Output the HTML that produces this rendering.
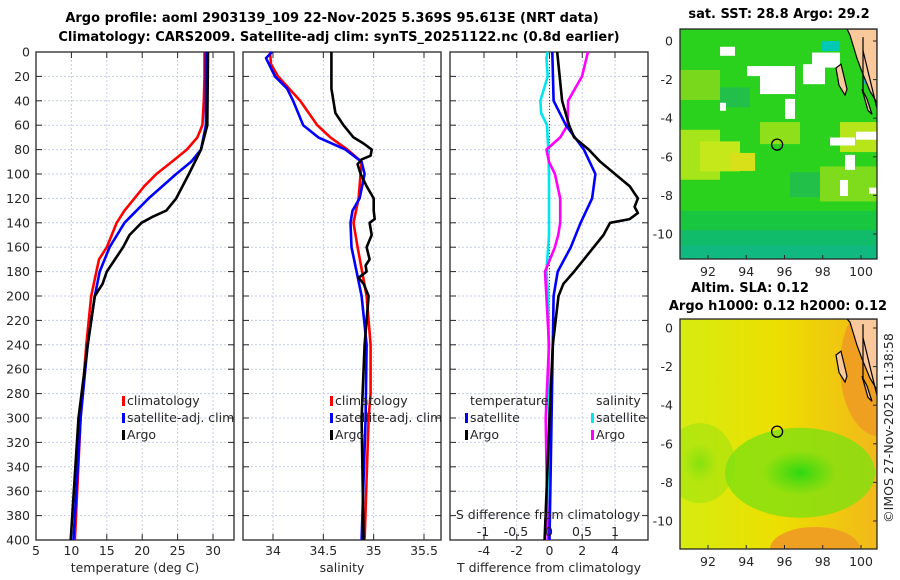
<!DOCTYPE html>
<html><head><meta charset="utf-8"><style>
html,body{margin:0;padding:0;background:#fff;}
svg{display:block;font-family:"DejaVu Sans","Liberation Sans",sans-serif;}
.t{font-size:12.5px;fill:#262626;}
.b{font-weight:bold;font-size:13px;fill:#000;}
</style></head><body>
<svg id="c" width="900" height="580" viewBox="0 0 900 580" xmlns="http://www.w3.org/2000/svg">
<text class="b" x="332" y="22" text-anchor="middle">Argo profile: aoml 2903139_109 22-Nov-2025 5.369S 95.613E (NRT data)</text>
<text class="b" x="339" y="41" text-anchor="middle">Climatology: CARS2009. Satellite-adj clim: synTS_20251122.nc (0.8d earlier)</text>
<g id="panels"></g>
<g id="maps"></g>
<text class="t" transform="translate(893,428) rotate(-90)" text-anchor="middle">©IMOS 27-Nov-2025 11:38:58</text>
</svg>
<script>
// ---- data ----
const tClimDepth=[0,20,40,60,70,80,90,100,110,120,130,140,160,170,200,240,300,400];
const tClim=[28.8,28.8,28.7,28.5,27.8,26.3,24.2,22,20.3,18.9,17.5,16.4,15,13.9,12.8,12.1,11.3,10.5];
const tSatDepth=[0,60,80,90,100,120,140,160,180,200,240,300,400];
const tSat=[29,29,28.3,26.9,24.8,20.9,17.5,15.4,14,13.3,12.3,11.3,10.3];
const tArgoDepth=[0,60,80,100,120,130,135,140,150,160,180,190,200,240,300,400];
const tArgo=[29.3,29.2,28.3,26.6,24.8,23.4,21.5,19.9,18.2,17.3,15,14.4,13.3,12.3,11.0,9.9];
const sClimDepth=[0,10,20,40,60,70,80,90,100,120,140,160,200,240,280,300,400];
const sClim=[33.97,33.98,34.05,34.27,34.44,34.57,34.74,34.88,34.87,34.85,34.8,34.84,34.93,34.97,34.97,34.95,34.91];
const sSatDepth=[0,5,20,30,40,60,70,80,90,100,120,130,140,160,180,200,240,300,400];
const sSat=[33.99,33.93,34.02,34.14,34.2,34.3,34.45,34.72,34.88,34.91,34.86,34.79,34.77,34.78,34.83,34.88,34.93,34.92,34.88];
const sArgoDepth=[0,30,50,60,70,75,80,85,88,92,100,110,120,130,137,140,150,160,170,175,180,185,190,200,240,300,400];
const sArgo=[34.58,34.58,34.62,34.7,34.8,34.9,34.98,34.97,34.88,34.84,34.87,34.93,35.0,35.0,35.01,34.96,34.98,34.93,34.96,34.92,34.93,34.85,34.9,34.95,34.91,34.88,34.9];
const dTSatDepth=[0,40,60,80,100,120,140,160,180,200,240,400];
const dTSat=[0.17,0.25,1.0,2.1,2.8,2.6,1.9,1.3,0.5,0.25,0.2,0.0];
const dTArgoDepth=[0,40,60,70,80,90,100,110,120,127,132,137,140,150,160,170,180,190,200,240,300,400];
const dTArgo=[0.47,0.77,1.2,1.5,2.4,3.1,4.0,4.9,5.4,5.2,5.4,4.9,3.7,3.3,2.7,2.1,1.5,0.85,0.55,0.2,0.0,-0.3];
const dSSatDepth=[0,5,20,40,50,60,80,100,150,180,200,300,400];
const dSSat=[-0.02,-0.04,-0.02,-0.13,-0.12,-0.03,-0.01,0.0,0.0,-0.04,-0.01,0.0,0.0];
const dSArgoDepth=[0,20,40,60,70,80,90,100,120,140,150,160,180,200,240,300,400];
const dSArgo=[0.59,0.5,0.29,0.28,0.17,-0.04,0.0,0.09,0.17,0.17,0.14,0.09,-0.06,-0.04,0.0,-0.05,-0.02];
const depthTicks=[0,20,40,60,80,100,120,140,160,180,200,220,240,260,280,300,320,340,360,380,400];
const tempTicks=[5,10,15,20,25,30];
const salTicks=[34,34.5,35,35.5];
const dTTicks=[-4,-2,0,2,4];
const dSTicks=[-1,-0.5,0,0.5,1];
const dSTickLabels=["-1","-0.5","0","0.5","1"];
const mapLonTicks=[92,94,96,98,100];
const mapLatTicks=[0,-2,-4,-6,-8,-10];

const NS='http://www.w3.org/2000/svg';
function mk(tag,attrs,parent,txt){const e=document.createElementNS(NS,tag);for(const k in attrs)e.setAttribute(k,attrs[k]);if(txt!==undefined)e.textContent=txt;(parent||document.getElementById('c')).appendChild(e);return e;}
const Y0=52,Y1=540;
const yD=d=>Y0+(d/400)*(Y1-Y0);
function lin(d0,d1,r0,r1){return v=>r0+(v-d0)/(d1-d0)*(r1-r0);}
const P=document.getElementById('panels');

function panel(x0,x1,xs,ticks,labels,xlabel,name){
  const g=mk('g',{},P);
  
  
  ticks.forEach(v=>{const l=mk('line',{x1:xs(v),x2:xs(v),y1:Y0,y2:Y1,stroke:'#c3cbe6','stroke-width':1,'stroke-dasharray':'2,2'},g);
    });
  depthTicks.forEach(d=>{const l=mk('line',{x1:x0,x2:x1,y1:yD(d),y2:yD(d),stroke:'#c3cbe6','stroke-width':1,'stroke-dasharray':'2,2'},g);
    
    mk('line',{x1:x0,x2:x0+6,y1:yD(d),y2:yD(d),stroke:'#262626'},g);mk('line',{x1:x1-6,x2:x1,y1:yD(d),y2:yD(d),stroke:'#262626'},g);});
  ticks.forEach((v,i)=>{mk('line',{x1:xs(v),x2:xs(v),y1:Y1,y2:Y1-6,stroke:'#262626'},g);mk('line',{x1:xs(v),x2:xs(v),y1:Y0,y2:Y0+6,stroke:'#262626'},g);
    const t=mk('text',{class:'t',x:xs(v),y:555,'text-anchor':'middle'},g,labels[i]);
    });
  const r=mk('rect',{x:x0,y:Y0,width:x1-x0,height:Y1-Y0,fill:'none',stroke:'#262626','stroke-width':1.3},g);
  
  const xl=mk('text',{class:'t',x:(x0+x1)/2,y:572,'text-anchor':'middle'},g,xlabel);
  
  return g;
}
function line(g,xs,depths,vals,color,name,w){
  const pts=depths.map((d,i)=>xs(vals[i]).toFixed(1)+','+yD(d).toFixed(1)).join(' ');
  const p=mk('polyline',{points:pts,fill:'none',stroke:color,'stroke-width':w||2.6,'stroke-linejoin':'round'},g);
  
}
function legend(g,x,y,color,label,name){
  const lg=mk('g',{},g);
  
  mk('rect',{x:x,y:y-9,width:3,height:10,fill:color},lg);
  mk('text',{class:'t',x:x+5,y:y},lg,label);
}
// panel 1
const xT=lin(5,30,36,213);
const g1=panel(36,234,xT,tempTicks,tempTicks.map(String),'temperature (deg C)','temperature-panel');
depthTicks.forEach(d=>{const t=mk('text',{class:'t',x:30,y:yD(d)+4.5,'text-anchor':'end'},g1,String(d));
  });
line(g1,xT,tClimDepth,tClim,'#ff0000','temp-climatology-line');
line(g1,xT,tSatDepth,tSat,'#0000ff','temp-satellite-line');
line(g1,xT,tArgoDepth,tArgo,'#000000','temp-argo-line');
legend(g1,122,405,'#ff0000','climatology','legend-climatology');
legend(g1,122,422,'#0000ff','satellite-adj. clim','legend-satellite');
legend(g1,122,439,'#000000','Argo','legend-argo');
// panel 2
const xS=lin(34,35.5,273,424);
const g2=panel(243,441,xS,salTicks,['34','34.5','35','35.5'],'salinity','salinity-panel');
line(g2,xS,sClimDepth,sClim,'#ff0000','sal-climatology-line');
line(g2,xS,sSatDepth,sSat,'#0000ff','sal-satellite-line');
line(g2,xS,sArgoDepth,sArgo,'#000000','sal-argo-line');
legend(g2,330,405,'#ff0000','climatology','legend-climatology');
legend(g2,330,422,'#0000ff','satellite-adj. clim','legend-satellite');
legend(g2,330,439,'#000000','Argo','legend-argo');
// panel 3
const xDT=lin(-4,4,484,615);
const xDS=lin(-1,1,483,615);
const g3=panel(450,648,xDT,dTTicks,dTTicks.map(String),'T difference from climatology','difference-panel');
mk('line',{x1:xDT(0),x2:xDT(0),y1:Y0,y2:Y1,stroke:'#444','stroke-width':1,'stroke-dasharray':'1,2'},g3);
line(g3,xDS,dSSatDepth,dSSat,'#00e5ee','sdiff-satellite-line');
line(g3,xDS,dSArgoDepth,dSArgo,'#ff00ff','sdiff-argo-line');
line(g3,xDT,dTSatDepth,dTSat,'#0000ff','tdiff-satellite-line');
line(g3,xDT,dTArgoDepth,dTArgo,'#000000','tdiff-argo-line');
let tt=mk('text',{class:'t',x:470,y:405},g3,'temperature');
tt=mk('text',{class:'t',x:596,y:405},g3,'salinity');
legend(g3,465,422,'#0000ff','satellite','legend-t-satellite');
legend(g3,465,439,'#000000','Argo','legend-t-argo');
legend(g3,591,422,'#00e5ee','satellite','legend-s-satellite');
legend(g3,591,439,'#ff00ff','Argo','legend-s-argo');
tt=mk('text',{class:'t',x:548,y:519,'text-anchor':'middle'},g3,'S difference from climatology');
dSTicks.forEach((v,i)=>{const t=mk('text',{class:'t',x:xDS(v),y:536,'text-anchor':'middle'},g3,dSTickLabels[i]);
  });

// ---- maps ----
const M=document.getElementById('maps');
function mapPanel(y0,y1,lat0y,name,fillFn,title){
  const g=mk('g',{},M);
  
  const lx=lin(92,100,708,861), ly=lin(0,-10,lat0y,lat0y+193);
  const cp=mk('clipPath',{id:'cp'+name},g);mk('rect',{x:680,y:y0,width:197,height:y1-y0},cp);
  const inner=mk('g',{'clip-path':'url(#cp'+name+')'},g);
  fillFn(inner,lx,ly,y0,y1);
  const land=mk('path',{d:`M847,${y0} L877,${y0} L877,${ly(-3.2)} L870,${ly(-2.6)} L862,${ly(-1.6)} L857,${ly(-0.9)} L850,${ly(0.3)} Z`,fill:'#fac99b',stroke:'#000','stroke-width':1.2},inner);
  
  mk('path',{d:`M836,${ly(-1.4)} L841,${ly(-1.2)} L847,${ly(-2.5)} L845,${ly(-2.8)} L839,${ly(-2.3)} Z`,fill:'#fac99b',stroke:'#000','stroke-width':1.2},inner);
  mk('path',{d:`M862,${ly(-2.5)} L867,${ly(-3)} L872,${ly(-3.8)} L868,${ly(-3.6)} Z`,fill:'#fac99b',stroke:'#000','stroke-width':1.2},inner);
  mk('line',{x1:863,x2:863,y1:ly(0.2),y2:ly(-2.7),stroke:'#000','stroke-width':1.2},inner);
  mk('line',{x1:863,x2:877,y1:ly(-0.5),y2:ly(-3.5),stroke:'#000','stroke-width':1.2},inner);
  const c=mk('circle',{cx:lx(95.613),cy:ly(-5.369),r:5.5,fill:'none',stroke:'#000','stroke-width':1.3},g);
  
  mk('rect',{x:680,y:y0,width:197,height:y1-y0,fill:'none',stroke:'#262626','stroke-width':1.3},g);
  mapLonTicks.forEach(v=>{mk('line',{x1:lx(v),x2:lx(v),y1:y1,y2:y1-4,stroke:'#262626'},g);
    const t=mk('text',{class:'t',x:lx(v),y:y1+17,'text-anchor':'middle'},g,String(v));});
  mapLatTicks.forEach(v=>{mk('line',{x1:877,x2:873,y1:ly(v),y2:ly(v),stroke:'#262626'},g);
    const t=mk('text',{class:'t',x:673,y:ly(v)+4.5,'text-anchor':'end'},g,String(v));});
  title.forEach(([txt,x,y])=>{const t=mk('text',{class:'b',x:x,y:y,'text-anchor':'middle'},g,txt);});
}
mapPanel(29,259,41,'sst-map',(g,lx,ly,y0,y1)=>{
  mk('rect',{x:680,y:y0,width:197,height:y1-y0,fill:'#2ad21e'},g);
  mk('rect',{x:680,y:ly(-8.8),width:197,height:y1-ly(-8.8),fill:'#18c640'},g);
  mk('rect',{x:680,y:ly(-9.8),width:197,height:y1-ly(-9.8),fill:'#10bc6a'},g);
  mk('rect',{x:680,y:ly(-10.6),width:197,height:y1-ly(-10.6),fill:'#10b88a',opacity:0.7},g);
  [[680,-4.6,40,50,'#a6e51a'],[700,-5.2,40,30,'#c4e81a'],[730,-5.8,25,18,'#d8e01a'],[840,-4.2,37,30,'#b8e41a'],[760,-4.2,40,22,'#8fe01a'],[820,-6.5,57,35,'#7fdc1c'],[680,-1.5,40,30,'#7ad81c'],[720,-2.4,30,20,'#22c04a'],[790,-6.8,30,25,'#22c048']].forEach(a=>
    mk('rect',{x:a[0],y:ly(a[1]),width:a[2],height:a[3],fill:a[4]},g));
  [[747,-1.3,22,10],[760,-1.3,35,28],[812,-0.6,28,15],[803,-1.2,22,20],[785,-3,10,20],[720,-3.2,6,8],[830,-5,25,8],[845,-5.9,10,15],[856,-4.7,21,8],[840,-7.2,8,16],[869,-7.6,8,6],[720,-0.3,15,9]].forEach(a=>
    mk('rect',{x:a[0],y:ly(a[1]),width:a[2],height:a[3],fill:'#ffffff'},g));
  mk('rect',{x:822,y:ly(0),width:18,height:10,fill:'#00c8b4'},g);
  mk('rect',{x:864,y:ly(-1.5),width:13,height:14,fill:'#10b8d0'},g);
},[['sat. SST: 28.8 Argo: 29.2',779,18]]);
mapPanel(319,549,328,'sla-map',(g,lx,ly,y0,y1)=>{
  const d=mk('defs',{},g);
  const lg=mk('linearGradient',{id:'slag',x1:'0',y1:'0',x2:'1',y2:'0'},d);
  mk('stop',{offset:'0','stop-color':'#d6ec10'},lg);mk('stop',{offset:'0.5','stop-color':'#ecdf00'},lg);mk('stop',{offset:'1','stop-color':'#f2b81a'},lg);
  const rg=mk('radialGradient',{id:'slagr'},d);
  mk('stop',{offset:'0','stop-color':'#2ed810'},rg);mk('stop',{offset:'0.5','stop-color':'#80e010','stop-opacity':0.8},rg);mk('stop',{offset:'1','stop-color':'#c8ec10','stop-opacity':0});
  const rg2=mk('radialGradient',{id:'slago'},d);
  mk('stop',{offset:'0','stop-color':'#f0a020'},rg2);mk('stop',{offset:'1','stop-color':'#f0c010','stop-opacity':0});
  mk('rect',{x:680,y:y0,width:197,height:y1-y0,fill:'url(#slag)'},g);
  mk('ellipse',{cx:800,cy:ly(-7.5),rx:75,ry:45,fill:'url(#slagr)'},g);
  mk('ellipse',{cx:700,cy:ly(-7),rx:35,ry:40,fill:'url(#slagr)',opacity:0.5},g);
  mk('ellipse',{cx:880,cy:ly(-2),rx:40,ry:70,fill:'url(#slago)'},g);
  mk('ellipse',{cx:815,cy:y1,rx:45,ry:22,fill:'url(#slago)'},g);
},[['Altim. SLA: 0.12',750,292],['Argo h1000: 0.12 h2000: 0.12',778,310]]);
</script>
</body></html>
